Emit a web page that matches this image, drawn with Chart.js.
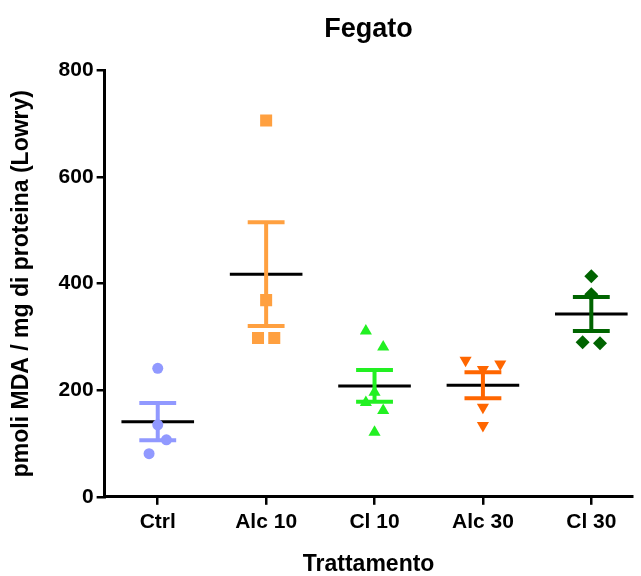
<!DOCTYPE html>
<html>
<head>
<meta charset="utf-8">
<script src="https://cdn.jsdelivr.net/npm/chart.js@4"></script>
<style>
  body { margin: 0; background: #fff; }
  #wrap { width: 641px; height: 576px; }
</style>
</head>
<body>
<div id="wrap"><canvas id="myChart" width="641" height="576"></canvas></div>
<script>
// data (pmoli MDA / mg proteina)
const categories = ['Ctrl', 'Alc 10', 'Cl 10', 'Alc 30', 'Cl 30'];
const ctrl = [241, 135, 107, 81];
const alc10 = [706, 369, 298, 298];
const cl10 = [311, 281, 196, 177, 162, 121];
const alc30 = [256, 249, 239, 168, 134];
const cl30 = [414, 380, 290, 288];
const yTicks = [0, 200, 400, 600, 800];

// horizontal scatter of the dots inside each column (category units)
const spreads = [
  [0, 0, 0.08, -0.08],
  [0, 0, -0.075, 0.075],
  [-0.08, 0.08, 0, -0.08, 0.08, 0],
  [-0.16, 0.16, 0, 0, 0],
  [0, 0, -0.08, 0.08]
];

const series = [ctrl, alc10, cl10, alc30, cl30];
const colors = ['#9199FF', '#FFA040', '#22F022', '#FF6600', '#006400'];
const shapes = ['circle', 'rect', 'triangle', 'triangle', 'rectRot'];
const rotations = [0, 0, 0, 180, 0];
const radii = [5.5, 8.5, 7, 7, 7];

const mean = arr => arr.reduce((a, b) => a + b, 0) / arr.length;
const sem = arr => {
  const m = mean(arr);
  const v = arr.reduce((a, b) => a + (b - m) * (b - m), 0) / (arr.length - 1);
  return Math.sqrt(v / arr.length);
};

const segment = (x1, y1, x2, y2, color, w) => ({
  type: 'line',
  data: [{x: x1, y: y1}, {x: x2, y: y2}],
  borderColor: color,
  borderWidth: w,
  borderCapStyle: 'butt',
  pointRadius: 0,
  showLine: true,
  fill: false
});

const datasets = [];
series.forEach((vals, i) => {
  datasets.push({
    type: 'scatter',
    label: categories[i],
    data: vals.map((v, j) => ({x: i + spreads[i][j], y: v})),
    backgroundColor: colors[i],
    borderColor: colors[i],
    pointStyle: shapes[i],
    rotation: rotations[i],
    pointRadius: radii[i],
    borderWidth: 0
  });
});
series.forEach((vals, i) => {
  const m = mean(vals), s = sem(vals);
  datasets.push(segment(i, m - s, i, m + s, colors[i], 4));
  datasets.push(segment(i - 0.17, m + s, i + 0.17, m + s, colors[i], 4));
  datasets.push(segment(i - 0.17, m - s, i + 0.17, m - s, colors[i], 4));
});
series.forEach((vals, i) => {
  const m = mean(vals);
  datasets.push(segment(i - 0.335, m, i + 0.335, m, '#000000', 3));
});

const font = (size, lh) => ({family: '"Liberation Sans", Arial, sans-serif', size: size, weight: 'bold', lineHeight: lh || 1.2});

const ctx = document.getElementById('myChart');
new Chart(ctx, {
  type: 'scatter',
  data: {datasets: datasets},
  options: {
    responsive: false,
    animation: false,
    layout: {padding: {left: 0, right: 0, top: 13, bottom: 0}},
    plugins: {
      legend: {display: false},
      tooltip: {enabled: false},
      title: {
        display: true,
        text: 'Fegato',
        color: '#000',
        fullSize: false,
        font: font(27),
        padding: {top: 0, bottom: 25}
      }
    },
    scales: {
      x: {
        type: 'linear',
        min: -0.49,
        max: 4.38,
        afterBuildTicks: axis => { axis.ticks = categories.map((c, i) => ({value: i})); },
        ticks: {
          color: '#000',
          font: font(21),
          padding: 5,
          maxRotation: 0,
          callback: v => categories[v]
        },
        grid: {display: true, drawOnChartArea: false, drawTicks: true, tickLength: 8, color: '#000', lineWidth: 2.5},
        border: {display: true, color: '#000', width: 3},
        title: {display: true, text: 'Trattamento', color: '#000', font: font(23, 1), padding: {top: 13, bottom: 0}}
      },
      y: {
        min: 0,
        max: 800,
        afterBuildTicks: axis => { axis.ticks = yTicks.map(v => ({value: v})); },
        ticks: {color: '#000', font: font(21), padding: 3},
        grid: {display: true, drawOnChartArea: false, drawTicks: true, tickLength: 8, color: '#000', lineWidth: 2.5},
        border: {display: true, color: '#000', width: 3},
        title: {display: true, text: 'pmoli MDA / mg di proteina (Lowry)', color: '#000', font: font(23), padding: {top: 8, bottom: 20}}
      }
    }
  }
});
</script>
</body>
</html>
